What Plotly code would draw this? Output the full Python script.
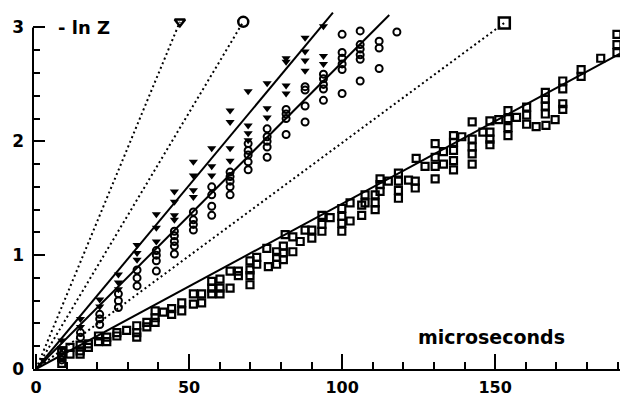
import plotly.graph_objects as go

# ---------------- data ----------------
tri_x = [2.5, 8.4, 8.4, 14.5, 14.5, 20.8, 20.8, 26.9, 26.9, 26.9, 33.0, 33.0, 33.0,
         39.3, 39.3, 39.3, 45.2, 45.2, 45.2, 45.2, 51.4, 51.4, 51.4, 51.4,
         57.4, 57.4, 57.4, 63.4, 63.4, 63.4, 63.4, 69.3, 69.3, 69.3, 69.3,
         75.5, 75.5, 75.5, 81.7, 81.7, 81.7, 81.7, 87.9, 87.9, 87.9, 87.9,
         93.9, 93.9, 93.9]
tri_y = [0.08, 0.25, 0.18, 0.44, 0.37, 0.61, 0.55, 0.83, 0.76, 0.70, 1.09, 1.02, 0.96,
         1.36, 1.24, 1.12, 1.56, 1.47, 1.35, 1.31, 1.82, 1.70, 1.57, 1.51,
         1.94, 1.78, 1.70, 2.27, 2.17, 1.94, 1.83, 2.44, 2.14, 2.07, 2.01,
         2.51, 2.29, 2.21, 2.73, 2.70, 2.49, 2.42, 2.91, 2.79, 2.71, 2.62,
         3.01, 2.75, 2.68]

circ_x = [8.4, 8.4, 8.4, 14.5, 14.5, 20.8, 20.8, 20.8, 26.9, 26.9, 26.9,
          33.0, 33.0, 33.0, 39.3, 39.3, 39.3, 39.3, 45.2, 45.2, 45.2, 45.2, 45.2,
          51.4, 51.4, 51.4, 51.4, 57.4, 57.4, 57.4, 57.4,
          63.4, 63.4, 63.4, 63.4, 63.4, 69.3, 69.3, 69.3, 69.3, 69.3,
          75.5, 75.5, 75.5, 75.5, 75.5, 81.7, 81.7, 81.7, 81.7,
          87.9, 87.9, 87.9, 87.9, 93.9, 93.9, 93.9, 93.9, 93.9,
          100.0, 100.0, 100.0, 100.0, 100.0, 100.0,
          105.9, 105.9, 105.9, 105.9, 105.9, 105.9,
          112.1, 112.1, 112.1, 117.9]
circ_y = [0.16, 0.12, 0.08, 0.32, 0.28, 0.48, 0.44, 0.39, 0.66, 0.60, 0.54,
          0.87, 0.80, 0.73, 1.04, 1.00, 0.95, 0.86, 1.21, 1.17, 1.12, 1.08, 1.01,
          1.38, 1.31, 1.27, 1.22, 1.60, 1.53, 1.43, 1.35,
          1.73, 1.69, 1.65, 1.60, 1.53, 1.98, 1.92, 1.88, 1.82, 1.75,
          2.11, 2.04, 2.00, 1.95, 1.86, 2.28, 2.24, 2.20, 2.06,
          2.48, 2.45, 2.31, 2.17, 2.59, 2.55, 2.50, 2.46, 2.36,
          2.94, 2.78, 2.73, 2.68, 2.63, 2.42,
          2.97, 2.85, 2.81, 2.76, 2.72, 2.53,
          2.88, 2.82, 2.64, 2.96]

sq_x = [8.4, 8.4, 8.4, 11.1, 11.1, 14.4, 14.4, 14.4, 17.1, 17.1, 20.4, 20.4,
        23.1, 23.1, 26.4, 26.4, 29.6, 32.9, 32.9, 32.9, 36.2, 36.2,
        38.9, 38.9, 38.9, 41.6, 44.3, 44.3, 47.6, 47.6, 51.4, 51.4, 54.1, 54.1,
        57.4, 57.4, 57.4, 60.1, 60.1, 60.1, 63.4, 63.4, 66.1, 66.1,
        69.9, 69.9, 69.9, 69.9, 72.1, 72.1, 75.4, 75.9, 78.6, 78.6, 78.6,
        80.8, 80.8, 80.8, 81.4, 83.9, 83.9, 86.3, 87.9, 90.1, 90.1,
        93.4, 93.4, 93.4, 96.1, 99.9, 99.9, 99.9, 99.9, 102.6, 102.6,
        106.4, 106.4, 107.5, 107.5, 110.8, 110.8, 110.8, 112.4, 112.4, 112.4,
        115.1, 118.4, 118.4, 118.4, 118.4, 121.7, 124.2, 123.9, 123.9, 127.1,
        130.4, 130.4, 130.4, 130.4, 133.1, 133.1,
        136.4, 136.4, 136.4, 136.4, 136.4, 139.1,
        142.5, 142.5, 142.5, 142.5, 142.5, 146.0,
        148.3, 148.3, 148.3, 148.3, 151.2, 154.2, 154.2, 154.2, 154.2, 157.0,
        160.3, 160.3, 160.3, 163.4, 166.4, 166.4, 166.4, 166.4, 166.6, 169.6,
        172.1, 172.1, 172.1, 172.1, 178.1, 178.1, 184.5, 189.8, 189.8, 189.8]
sq_y = [0.16, 0.10, 0.05, 0.19, 0.13, 0.21, 0.16, 0.13, 0.22, 0.19, 0.29, 0.24,
        0.28, 0.24, 0.32, 0.29, 0.34, 0.38, 0.32, 0.28, 0.41, 0.37,
        0.51, 0.45, 0.41, 0.50, 0.53, 0.48, 0.58, 0.51, 0.66, 0.57, 0.66, 0.58,
        0.77, 0.71, 0.66, 0.79, 0.71, 0.66, 0.86, 0.71, 0.86, 0.82,
        0.95, 0.87, 0.82, 0.74, 0.98, 0.92, 1.06, 0.90, 1.03, 0.98, 0.92,
        1.08, 1.02, 0.96, 1.18, 1.16, 1.03, 1.12, 1.22, 1.22, 1.15,
        1.35, 1.27, 1.21, 1.33, 1.41, 1.34, 1.28, 1.21, 1.46, 1.30,
        1.44, 1.35, 1.53, 1.46, 1.53, 1.46, 1.40, 1.67, 1.62, 1.56,
        1.65, 1.72, 1.65, 1.57, 1.50, 1.66, 1.85, 1.65, 1.59, 1.78,
        1.98, 1.86, 1.78, 1.67, 1.91, 1.80,
        2.05, 1.99, 1.92, 1.83, 1.75, 2.04,
        2.17, 2.02, 1.95, 1.89, 1.80, 2.08,
        2.18, 2.08, 2.02, 1.97, 2.19, 2.27, 2.20, 2.12, 2.05, 2.21,
        2.30, 2.23, 2.15, 2.13, 2.43, 2.37, 2.31, 2.24, 2.14, 2.19,
        2.53, 2.46, 2.33, 2.28, 2.63, 2.57, 2.73, 2.94, 2.85, 2.78]

# fitted (solid) lines: start and end points
fit_tri_x = [0, 97.0]
fit_tri_y = [0, 3.13]
fit_circ_x = [0, 115.4]
fit_circ_y = [0, 3.11]
fit_sq_x = [0, 190.8]
fit_sq_y = [0, 2.77]

# dotted reference lines ending at the symbol keys
ref_tri_x = [0, 47.0]
ref_tri_y = [0, 3.05]
ref_circ_x = [0, 67.7]
ref_circ_y = [0, 3.05]
ref_sq_x = [0, 153.0]
ref_sq_y = [0, 3.04]

x_ticks = [0, 50, 100, 150]
y_ticks = [0, 1, 2, 3]

FONT = "DejaVu Sans"
fig = go.Figure()

for xs, ys in [(ref_tri_x, ref_tri_y), (ref_circ_x, ref_circ_y), (ref_sq_x, ref_sq_y)]:
    fig.add_trace(go.Scatter(x=xs, y=ys, mode="lines",
                             line=dict(color="black", width=2, dash="2px,3px")))

for xs, ys in [(fit_tri_x, fit_tri_y), (fit_circ_x, fit_circ_y), (fit_sq_x, fit_sq_y)]:
    fig.add_trace(go.Scatter(x=xs, y=ys, mode="lines",
                             line=dict(color="black", width=2)))

fig.add_trace(go.Scatter(x=tri_x, y=tri_y, mode="markers", cliponaxis=False,
                         marker=dict(symbol="triangle-down", size=8, color="black")))
fig.add_trace(go.Scatter(x=circ_x, y=circ_y, mode="markers", cliponaxis=False,
                         marker=dict(symbol="circle-open", size=7, color="black",
                                     line=dict(width=2, color="black"))))
fig.add_trace(go.Scatter(x=sq_x, y=sq_y, mode="markers", cliponaxis=False,
                         marker=dict(symbol="square-open", size=7, color="black",
                                     line=dict(width=2.2, color="black"))))

# key symbols at the end of dotted lines
fig.add_trace(go.Scatter(x=[ref_tri_x[1]], y=[ref_tri_y[1]], mode="markers", cliponaxis=False,
                         marker=dict(symbol="triangle-down-open", size=9, color="black",
                                     line=dict(width=2.5, color="black"))))
fig.add_trace(go.Scatter(x=[ref_circ_x[1]], y=[ref_circ_y[1]], mode="markers", cliponaxis=False,
                         marker=dict(symbol="circle-open", size=10, color="black",
                                     line=dict(width=2.5, color="black"))))
fig.add_trace(go.Scatter(x=[ref_sq_x[1]], y=[ref_sq_y[1]], mode="markers", cliponaxis=False,
                         marker=dict(symbol="square-open", size=11, color="black",
                                     line=dict(width=2.5, color="black"))))

# y axis line only from 0 to 3
fig.add_shape(type="line", xref="paper", yref="y", x0=0, x1=0, y0=0, y1=3,
              line=dict(color="black", width=2))

fig.add_annotation(x=6.5, y=3.0, xref="x", yref="y", text="- ln Z", showarrow=False,
                   xanchor="left", yanchor="middle",
                   font=dict(family=FONT, size=18, color="black", weight="bold"))
fig.add_annotation(x=148.7, y=0.28, xref="x", yref="y", text="microseconds", showarrow=False,
                   xanchor="center", yanchor="middle",
                   font=dict(family=FONT, size=19, color="black", weight="bold"))

fig.update_layout(
    width=620, height=397,
    margin=dict(l=33, r=0, t=7, b=25),
    paper_bgcolor="white", plot_bgcolor="white",
    showlegend=False,
    font=dict(family=FONT, size=17, color="black"),
    xaxis=dict(range=[-1, 190.8], tickvals=x_ticks, ticktext=[str(v) for v in x_ticks],
               ticks="inside", ticklen=15, tickwidth=2, tickcolor="black",
               showline=True, linecolor="black", linewidth=2, showgrid=False, zeroline=False,
               minor=dict(dtick=10, tick0=0, ticks="inside", ticklen=7, tickwidth=2,
                          tickcolor="black", showgrid=False),
               ticklabelstandoff=3,
               tickfont=dict(family=FONT, size=16, color="black", weight="bold")),
    yaxis=dict(range=[0, 3.18], tickvals=y_ticks, ticktext=[str(v) for v in y_ticks],
               ticks="inside", ticklen=12, tickwidth=2, tickcolor="black",
               showline=False, showgrid=False, zeroline=False,
               minor=dict(dtick=0.2, tick0=0, ticks="inside", ticklen=7, tickwidth=2,
                          tickcolor="black", showgrid=False),
               ticklabelstandoff=8,
               tickfont=dict(family=FONT, size=17, color="black", weight="bold")),
)

fig.write_html("out.html", config={"displayModeBar": False},
               post_script="document.body.style.margin='0';document.body.style.overflow='hidden';")
